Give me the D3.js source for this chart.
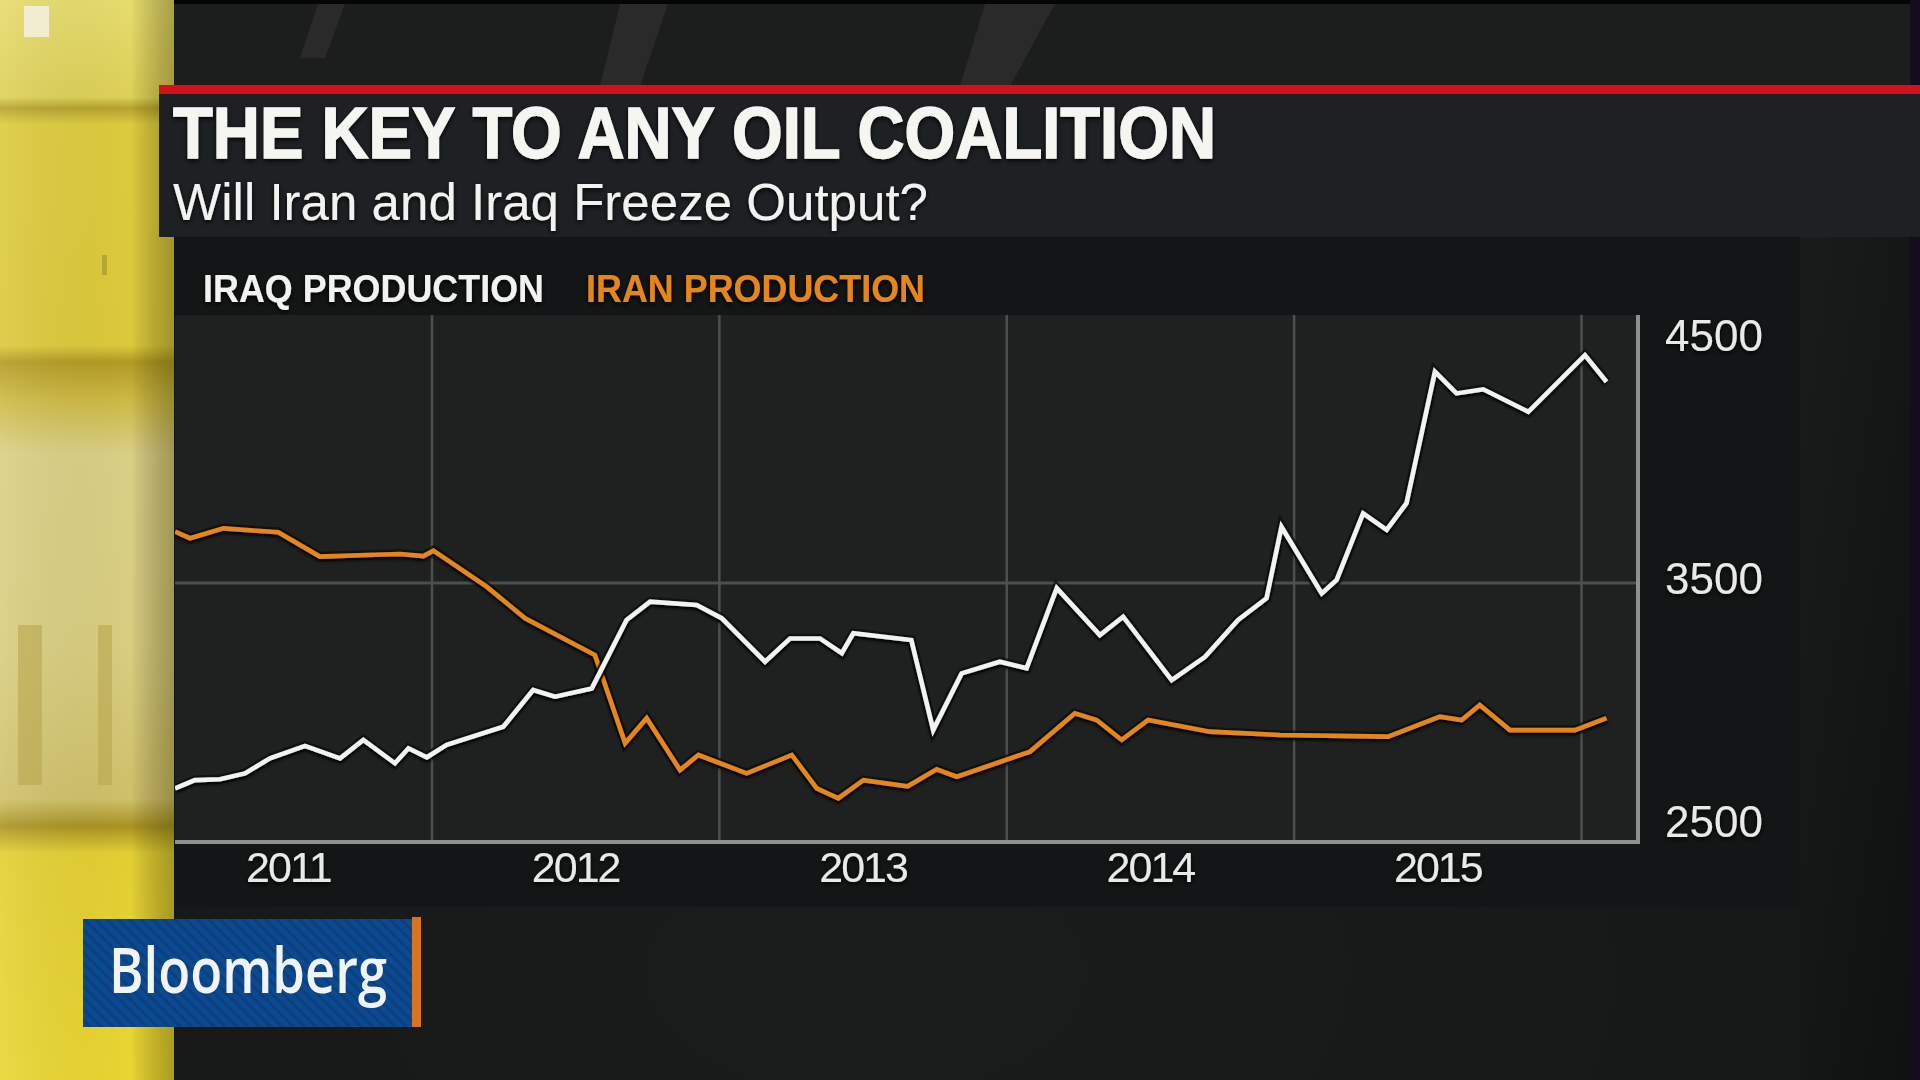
<!DOCTYPE html>
<html><head><meta charset="utf-8">
<script src="https://cdn.jsdelivr.net/npm/d3@7"></script>
<style>html,body{margin:0;padding:0;background:#191b1b;overflow:hidden}</style>
</head><body><svg id="c" width="1920" height="1080" xmlns="http://www.w3.org/2000/svg"></svg>
<script>
// ---- DATA ----
const titleText = "THE KEY TO ANY OIL COALITION";
const subtitleText = "Will Iran and Iraq Freeze Output?";
const seriesNames = ["IRAQ PRODUCTION", "IRAN PRODUCTION"];
const brandText = "Bloomberg";

// time in decimal years
const iraqTime = [2011.106,2011.175,2011.262,2011.349,2011.436,2011.558,2011.680,2011.761,2011.871,2011.918,2011.982,2012.051,2012.248,2012.352,2012.428,2012.556,2012.677,2012.759,2012.921,2013.008,2013.159,2013.246,2013.350,2013.426,2013.466,2013.668,2013.744,2013.843,2013.976,2014.069,2014.174,2014.324,2014.405,2014.574,2014.690,2014.805,2014.904,2014.956,2015.096,2015.148,2015.240,2015.322,2015.391,2015.490,2015.565,2015.658,2015.815,2016.012,2016.087];
const iraqValues = [2707,2739,2742,2765,2823,2871,2823,2894,2804,2862,2827,2875,2945,3087,3061,3093,3357,3428,3415,3364,3196,3286,3286,3229,3306,3280,2932,3151,3196,3171,3480,3299,3370,3125,3215,3357,3441,3717,3460,3512,3769,3705,3808,4316,4232,4248,4161,4380,4277];

const iranTime = [2011.106,2011.158,2011.274,2011.465,2011.610,2011.773,2011.889,2011.970,2012.005,2012.190,2012.324,2012.567,2012.672,2012.747,2012.863,2012.927,2013.095,2013.252,2013.339,2013.414,2013.501,2013.655,2013.756,2013.826,2014.081,2014.237,2014.313,2014.400,2014.492,2014.707,2014.951,2015.327,2015.507,2015.583,2015.646,2015.751,2015.977,2016.087];
const iranValues = [3698,3673,3711,3696,3602,3608,3612,3604,3625,3486,3364,3222,2881,2978,2778,2836,2765,2836,2707,2669,2739,2715,2781,2752,2849,2997,2971,2894,2971,2926,2913,2907,2984,2971,3029,2932,2932,2978];

const yearLabels = [2011, 2012, 2013, 2014, 2015];
const yearBoundaries = [2012, 2013, 2014, 2015, 2016];
const yTicks = [2500, 3500, 4500];
const yGrid = [3500];

// ---- LAYOUT ----
const W = 1920, H = 1080;
const plot = {left: 175, right: 1638, top: 315, bottom: 842};
const colors = {iraq: "#f2f2f0", iran: "#e5861f", grid: "#4c4f4f", axis: "#8e9090", text: "#e9e9e7"};

const svg = d3.select("#c");
const defs = svg.append("defs");

// filters
const ts = defs.append("filter").attr("id","tshadow").attr("x","-10%").attr("y","-40%").attr("width","120%").attr("height","180%");
ts.append("feDropShadow").attr("dx",0).attr("dy",2).attr("stdDeviation",2.5).attr("flood-color","#000").attr("flood-opacity",0.95);
const ls = defs.append("filter").attr("id","lshadow").attr("filterUnits","userSpaceOnUse").attr("x",0).attr("y",0).attr("width",W).attr("height",H);
ls.append("feDropShadow").attr("dx",0).attr("dy",2).attr("stdDeviation",2.2).attr("flood-color","#000").attr("flood-opacity",1);

// gradients
const yg = defs.append("linearGradient").attr("id","yellowV").attr("x1",0).attr("y1",0).attr("x2",0).attr("y2",1);
[[0,"#e6dc6e"],[0.09,"#ddd058"],[0.10,"#b5a32c"],[0.115,"#dccb3e"],[0.32,"#dcc93c"],[0.335,"#b39b24"],[0.37,"#cdb944"],[0.42,"#d9cf86"],[0.6,"#d8cd80"],[0.74,"#cfc06a"],[0.765,"#a99322"],[0.79,"#e3cf34"],[1,"#e9d632"]]
  .forEach(s => yg.append("stop").attr("offset",s[0]).attr("stop-color",s[1]));
const yh = defs.append("linearGradient").attr("id","yellowH").attr("x1",0).attr("y1",0).attr("x2",1).attr("y2",0);
[[0,"rgba(255,255,240,0.10)"],[0.75,"rgba(0,0,0,0)"],[1,"rgba(60,50,0,0.35)"]].forEach(s => yh.append("stop").attr("offset",s[0]).attr("stop-color",s[1]));
const rg = defs.append("linearGradient").attr("id","rightBg").attr("x1",0).attr("y1",0).attr("x2",1).attr("y2",1);
[[0,"#1a1b1b"],[1,"#0f1010"]].forEach(s => rg.append("stop").attr("offset",s[0]).attr("stop-color",s[1]));
const bg = defs.append("radialGradient").attr("id","bottomBg").attr("cx",0.45).attr("cy",0.9).attr("r",0.7);
[[0,"#1b1d1d"],[1,"#141616"]].forEach(s => bg.append("stop").attr("offset",s[0]).attr("stop-color",s[1]));
const pat = defs.append("pattern").attr("id","stripes").attr("patternUnits","userSpaceOnUse").attr("width",8).attr("height",8).attr("patternTransform","rotate(-45)");
pat.append("rect").attr("width",8).attr("height",8).attr("fill","#0c4a8f");
pat.append("rect").attr("width",3).attr("height",8).attr("fill","#0a4080");

// ---- BACKGROUND ----
svg.append("rect").attr("width",W).attr("height",H).attr("fill","url(#bottomBg)");
svg.append("rect").attr("x",0).attr("y",0).attr("width",W).attr("height",86).attr("fill","#1c1d1d");
svg.append("rect").attr("x",0).attr("y",0).attr("width",W).attr("height",4).attr("fill","#050505");
// faint diagonal streaks in the top strip
const streaks = [[[318,4],[345,4],[325,58],[300,58]],[[620,4],[668,4],[640,86],[600,86]],[[985,4],[1055,4],[1010,86],[960,86]]];
svg.append("g").selectAll("polygon").data(streaks).join("polygon")
  .attr("points", d => d.map(p => p.join(",")).join(" "))
  .attr("fill","#3a3b3a").attr("opacity",0.45);
svg.append("rect").attr("x",1800).attr("y",237).attr("width",W-1800).attr("height",H-237).attr("fill","url(#rightBg)");
svg.append("rect").attr("x",1910).attr("y",0).attr("width",10).attr("height",H).attr("fill","#150c1c");

// yellow sidebar
svg.append("rect").attr("x",0).attr("y",0).attr("width",174).attr("height",H).attr("fill","url(#yellowV)");
svg.append("rect").attr("x",0).attr("y",0).attr("width",174).attr("height",H).attr("fill","url(#yellowH)");
svg.append("rect").attr("x",24).attr("y",6).attr("width",25).attr("height",31).attr("fill","#f3f0dc").attr("opacity",0.9);
svg.append("rect").attr("x",18).attr("y",625).attr("width",24).attr("height",160).attr("fill","#b9a650").attr("opacity",0.6);
svg.append("rect").attr("x",98).attr("y",625).attr("width",14).attr("height",160).attr("fill","#b9a650").attr("opacity",0.6);
svg.append("rect").attr("x",102).attr("y",255).attr("width",5).attr("height",20).attr("fill","#a08f2a").attr("opacity",0.6);

// header
svg.append("rect").attr("x",159).attr("y",85).attr("width",W-159).attr("height",9).attr("fill","#d3111b");
svg.append("rect").attr("x",159).attr("y",94).attr("width",W-159).attr("height",143).attr("fill","#1e2124");
svg.append("text").text(titleText)
  .attr("x",173).attr("y",158)
  .attr("font-family","'Liberation Sans', Arial, sans-serif").attr("font-weight",700).attr("font-size",72)
  .attr("textLength",1043).attr("lengthAdjust","spacingAndGlyphs")
  .attr("fill","#f5f5f2").attr("stroke","#f5f5f2").attr("stroke-width",1.4).attr("filter","url(#tshadow)");
svg.append("text").text(subtitleText)
  .attr("x",173).attr("y",220)
  .attr("font-family","'Liberation Sans', Arial, sans-serif").attr("font-weight",400).attr("font-size",52)
  .attr("textLength",755).attr("lengthAdjust","spacingAndGlyphs")
  .attr("fill","#f2f2f0").attr("filter","url(#tshadow)");

// chart panel
svg.append("rect").attr("x",174).attr("y",237).attr("width",1800-174).attr("height",670).attr("fill","#131616");
svg.append("rect").attr("x",plot.left).attr("y",plot.top).attr("width",plot.right-plot.left).attr("height",plot.bottom-plot.top).attr("fill","#1f2121");

// legend
const legendX = [203, 586];
const legendW = [341, 339];
svg.append("g").selectAll("text").data(seriesNames).join("text")
  .text(d => d)
  .attr("x",(d,i) => legendX[i]).attr("y",302)
  .attr("font-family","'Liberation Sans', Arial, sans-serif").attr("font-weight",700).attr("font-size",39)
  .attr("textLength",(d,i) => legendW[i]).attr("lengthAdjust","spacingAndGlyphs")
  .attr("fill",(d,i) => i === 0 ? colors.iraq : colors.iran).attr("filter","url(#tshadow)");

// ---- SCALES ----
const x = d3.scaleLinear().domain([2012, 2016]).range([432, 1581.5]);
const y = d3.scaleLinear().domain([2500, 4500]).range([plot.bottom, 324]);
const yLabelPos = d3.scaleLinear().domain([2500, 4500]).range([821, 335]);

// gridlines
const g = svg.append("g");
g.selectAll("line.vg").data(yearBoundaries).join("line").attr("class","vg")
  .attr("x1",d => x(d)).attr("x2",d => x(d)).attr("y1",plot.top).attr("y2",plot.bottom)
  .attr("stroke",colors.grid).attr("stroke-width",2.5);
g.selectAll("line.hg").data(yGrid).join("line").attr("class","hg")
  .attr("x1",plot.left).attr("x2",plot.right).attr("y1",d => y(d)).attr("y2",d => y(d))
  .attr("stroke",colors.grid).attr("stroke-width",3);
// axes lines
g.append("line").attr("x1",plot.left).attr("x2",plot.right+2).attr("y1",plot.bottom).attr("y2",plot.bottom)
  .attr("stroke",colors.axis).attr("stroke-width",4);
g.append("line").attr("x1",plot.right).attr("x2",plot.right).attr("y1",plot.top).attr("y2",plot.bottom+2)
  .attr("stroke",colors.axis).attr("stroke-width",4);

// axis labels
svg.append("g").selectAll("text").data(yearLabels).join("text")
  .text(d => d)
  .attr("x",d => x(d + 0.5)).attr("y",882)
  .attr("text-anchor","middle")
  .attr("font-family","'Liberation Sans', Arial, sans-serif").attr("font-size",43).attr("letter-spacing",-2)
  .attr("fill",colors.text).attr("filter","url(#tshadow)");
svg.append("g").selectAll("text").data(yTicks).join("text")
  .text(d => d)
  .attr("x",1665).attr("y",d => yLabelPos(d) + 16)
  .attr("font-family","'Liberation Sans', Arial, sans-serif").attr("font-size",44)
  .attr("fill",colors.text).attr("filter","url(#tshadow)");

// ---- LINES ----
defs.append("clipPath").attr("id","plotClip").append("rect")
  .attr("x",plot.left).attr("y",plot.top - 10).attr("width",plot.right-plot.left).attr("height",plot.bottom-plot.top+10);
const line = d3.line().x(d => x(d.t)).y(d => y(d.v));
const iraq = iraqTime.map((t,i) => ({t, v: iraqValues[i]}));
const iran = iranTime.map((t,i) => ({t, v: iranValues[i]}));
const lg = svg.append("g").attr("clip-path","url(#plotClip)");
[[iran, colors.iran], [iraq, colors.iraq]].forEach(([data, col]) => {
  lg.append("path").datum(data).attr("d",line).attr("fill","none")
    .attr("stroke","#0b0f13").attr("stroke-width",9.5).attr("stroke-opacity",0.75).attr("stroke-linejoin","miter");
  lg.append("path").datum(data).attr("d",line).attr("fill","none")
    .attr("stroke",col).attr("stroke-width",4.6).attr("stroke-linejoin","miter")
    .attr("filter","url(#lshadow)");
});

// ---- BRAND ----
svg.append("rect").attr("x",83).attr("y",919).attr("width",329).attr("height",108).attr("fill","url(#stripes)");
svg.append("rect").attr("x",412).attr("y",917).attr("width",9).attr("height",110).attr("fill","#d8731f");
svg.append("text").text(brandText)
  .attr("x",109).attr("y",993)
  .attr("font-family","'Open Sans', Lato, sans-serif").attr("font-weight",600).attr("font-size",64)
  .attr("textLength",278).attr("lengthAdjust","spacingAndGlyphs")
  .attr("fill","#f2f3f5");
</script>
</body></html>
